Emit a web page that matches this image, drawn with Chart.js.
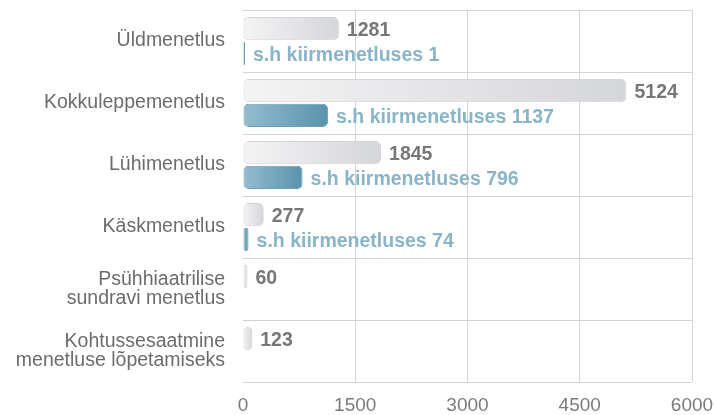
<!DOCTYPE html>
<html>
<head>
<meta charset="utf-8">
<script src="https://cdn.jsdelivr.net/npm/chart.js@4/dist/chart.umd.min.js"></script>
<style>
  html, body { margin: 0; padding: 0; background: #fff; }
  #wrap { width: 716px; height: 415px; position: relative; }
</style>
</head>
<body>
<div id="wrap"><canvas id="caseChart"></canvas></div>
<script>
// chart data
const categories = [
    'Üldmenetlus',
    'Kokkuleppemenetlus',
    'Lühimenetlus',
    'Käskmenetlus',
    ['Psühhiaatrilise', 'sundravi menetlus'],
    ['Kohtussesaatmine', 'menetluse lõpetamiseks']
];
const totalCases = [1281, 5124, 1845, 277, 60, 123];
const expressCases = [1, 1137, 796, 74, null, null];
const xTicks = [0, 1500, 3000, 4500, 6000];
const expressPrefix = 's.h kiirmenetluses ';

const FONT = '"Liberation Sans", Arial, Helvetica, sans-serif';

// horizontal gradient from 0 to the bar end
function barGradient(c, from, to) {
    const chart = c.chart;
    if (!chart.chartArea || c.raw == null) return to;
    const xs = chart.scales.x;
    const x0 = xs.getPixelForValue(0);
    const x1 = Math.max(xs.getPixelForValue(c.raw), x0 + 2);
    const g = chart.ctx.createLinearGradient(x0, 0, x1, 0);
    g.addColorStop(0, from);
    g.addColorStop(1, to);
    return g;
}

// value labels to the right of each bar
const valueLabels = {
    id: 'valueLabels',
    afterDatasetsDraw(chart) {
        const ctx = chart.ctx;
        ctx.save();
        ctx.font = 'bold 19.5px ' + FONT;
        ctx.textBaseline = 'middle';
        ctx.textAlign = 'left';
        chart.data.datasets.forEach((ds, di) => {
            const meta = chart.getDatasetMeta(di);
            meta.data.forEach((bar, i) => {
                const v = ds.data[i];
                if (v == null) return;
                const txt = di === 0 ? String(v) : expressPrefix + v;
                ctx.fillStyle = di === 0 ? '#777778' : '#8ab4c7';
                ctx.fillText(txt, bar.x + 8, bar.y + 2);
            });
        });
        ctx.restore();
    }
};

new Chart(document.getElementById('caseChart'), {
    type: 'bar',
    data: {
        labels: categories,
        datasets: [{
            data: totalCases,
            backgroundColor: c => barGradient(c, '#f4f4f5', '#d5d6d9'),
            borderColor: '#d3d4d7',
            borderWidth: 1,
            borderRadius: 5,
            borderSkipped: false,
            minBarLength: 2,
            categoryPercentage: 0.8,
            barPercentage: 0.94
        }, {
            data: expressCases,
            backgroundColor: c => barGradient(c, '#94bdce', '#5993ac'),
            borderColor: '#6a9fb6',
            borderWidth: 1,
            borderRadius: 5,
            borderSkipped: false,
            minBarLength: 2,
            categoryPercentage: 0.8,
            barPercentage: 0.94
        }]
    },
    options: {
        indexAxis: 'y',
        responsive: true,
        maintainAspectRatio: false,
        animation: false,
        layout: { padding: { top: 10, right: 24, left: 0, bottom: 0 } },
        plugins: {
            legend: { display: false },
            tooltip: { enabled: false }
        },
        scales: {
            x: {
                min: 0,
                max: 6000,
                afterBuildTicks: s => { s.ticks = xTicks.map(v => ({ value: v })); },
                afterFit: s => { s.height = 33; s.paddingLeft = 0; s.paddingRight = 0; },
                border: { display: false },
                grid: {
                    color: c => c.index === 0 ? 'rgba(0,0,0,0)' : '#d3d3d3',
                    drawTicks: false
                },
                ticks: {
                    padding: 12,
                    color: '#7b7b7b',
                    font: { family: FONT, size: 19 },
                    callback: v => String(v)
                }
            },
            y: {
                afterFit: s => { s.width = 243; s.paddingTop = 0; s.paddingBottom = 0; },
                border: { display: false },
                grid: { color: '#d3d3d3', drawTicks: false },
                ticks: {
                    padding: 18,
                    color: '#6c6c6c',
                    font: { family: FONT, size: 19.5, lineHeight: 1.0 }
                }
            }
        }
    },
    plugins: [valueLabels]
});
</script>
</body>
</html>
